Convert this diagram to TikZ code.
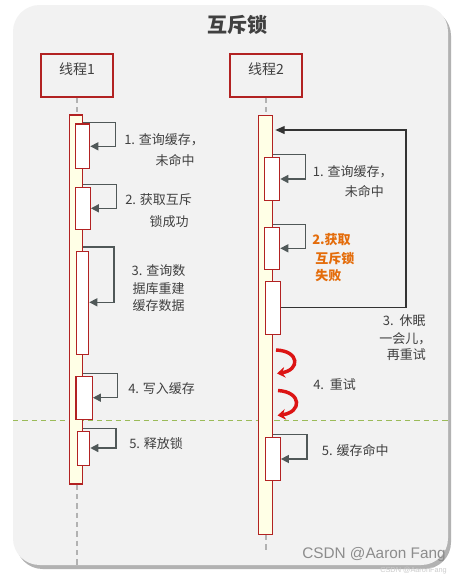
\documentclass[tikz,border=0pt]{standalone}
\usepackage{fontspec}
\newfontfamily\cjk{Noto Sans CJK SC}
\setsansfont{Liberation Sans}
\usetikzlibrary{fit,arrows.meta,calc}
\definecolor{bg}{RGB}{242,242,242}
\definecolor{bred}{RGB}{178,34,34}
\definecolor{byel}{RGB}{255,255,230}
\definecolor{agray}{RGB}{80,88,88}
\definecolor{tgray}{RGB}{64,64,64}
\definecolor{orng}{RGB}{228,108,10}
\definecolor{dgreen}{RGB}{155,187,89}
\definecolor{cred}{RGB}{220,20,20}
\begin{document}
\begin{tikzpicture}[x=0.75pt,y=-0.75pt,
  thread/.style={draw=bred, line width=1pt, fill=bg, inner sep=0, font=\cjk\fontsize{10.5}{12}\selectfont, text=tgray},
  bar/.style={draw=bred, line width=1pt, fill=byel, inner sep=0},
  act/.style={draw=bred, line width=0.9pt, fill=white, inner sep=0},
  selfarr/.style={draw=agray, line width=1.1pt, -{Triangle[length=6pt,width=6pt]}},
  looparr/.style={draw=black!80, line width=0.8pt, -{Triangle[length=7pt,width=6pt]}},
  lbl/.style={font=\cjk\fontsize{9.75}{13.1}\selectfont, text=tgray, inner sep=0},
  olbl/.style={font=\cjk\bfseries\fontsize{9.75}{13.1}\selectfont, text=orng, inner sep=0},
  life/.style={draw=black!30, line width=0.8pt, dash pattern=on 4pt off 3pt},
  sep/.style={draw=dgreen, line width=0.8pt, dash pattern=on 4pt off 3pt},
  retry/.style={draw=cred, line width=2.6pt, -{Stealth[length=6pt,width=8pt]}}
]
\useasboundingbox (0,0) rectangle (459,575);
\fill[white] (0,0) rectangle (459,575);
% panel with shadow
\fill[black!30, rounded corners=20] (16,9) rectangle (451,569);
\fill[bg, rounded corners=20] (13,5) rectangle (448,565);

% title
\node[font=\cjk\bfseries\fontsize{15}{17}\selectfont, text=tgray] (title) at (237,25) {互斥锁};

% thread heads
\node[thread, fit={(41,54)(113,97)}] (th1) {线程1};
\node[thread, fit={(230,54)(302,97)}] (th2) {线程2};

% separator
\coordinate (sepL) at (13,420.7);
\coordinate (sepR) at (448,420.7);
\draw[sep] (sepL) -- (sepR);

% lifelines and bars
\node[bar, fit={(69.5,115) (82.7,484)}] (t1bar) {};
\node[bar, fit={(258.3,115.3) (272.7,534.3)}] (t2bar) {};
\coordinate (t1end) at (76.5,565);
\coordinate (t2end) at (265.5,550);
\draw[life] (th1.south) -- (th1.south |- t1bar.north);
\draw[life] (th1.south |- t1bar.south) -- (th1.south |- t1end);
\draw[life] (th2.south) -- (th2.south |- t2bar.north);
\draw[life] (th2.south |- t2bar.south) -- (th2.south |- t2end);

% thread 1 activations
\node[act, fit={(75.3,124)(89.7,168.3)}] (t1a1) {};
\node[act, fit={(75.3,187.3)(90.3,229.3)}] (t1a2) {};
\node[act, fit={(76.3,251.3)(88.7,354.3)}] (t1a3) {};
\node[act, fit={(76,376.3)(92.3,419.3)}] (t1a4) {};
\node[act, fit={(77.3,431.3)(89.7,465.3)}] (t1a5) {};

\draw[selfarr] (t1bar.east |- 0,122.3) -| (115.7,146.3) -- (t1a1.east |- 0,146.3);
\draw[selfarr] (t1bar.east |- 0,184.3) -| (116.7,208.3) -- (t1a2.east |- 0,208.3);
\draw[selfarr] (t1bar.east |- 0,247) -| (114,302.3) -- (t1a3.east |- 0,302.3);
\draw[selfarr] (t1bar.east |- 0,373.3) -| (117.7,397.7) -- (t1a4.east |- 0,397.7);
\draw[selfarr] (t1bar.east |- 0,428.3) -| (116,448) -- (t1a5.east |- 0,448);

% thread 2 activations
\node[act, fit={(264.3,157.3)(279.7,200.3)}] (t2a1) {};
\node[act, fit={(264.3,227.3)(279.7,269.3)}] (t2a2) {};
\node[act, fit={(265.3,281.7)(280.3,334.3)}] (t2a3) {};
\node[act, fit={(265.3,437.3)(280.3,480.3)}] (t2a5) {};

\draw[selfarr] (t2bar.east |- 0,154.3) -| (305.3,179) -- (t2a1.east |- 0,179);
\draw[selfarr] (t2bar.east |- 0,224.3) -| (305.3,248.3) -- (t2a2.east |- 0,248.3);
\draw[selfarr] (t2bar.east |- 0,434.3) -| (307,459) -- (t2a5.east |- 0,459);
\draw[looparr, shorten >=1.5pt] (t2a3.east |- 0,307.3) -| (406,130) -- (t2bar.east |- 0,130);

% retry arrows
\coordinate (r1s) at (276,350);
\coordinate (r1e) at (277,373.5);
\coordinate (r2s) at (278,390.5);
\coordinate (r2e) at (277.5,415.5);
\draw[retry] (r1s) .. controls (300,351) and (300,370) .. (r1e);
\draw[retry] (r2s) .. controls (302,392) and (302,412) .. (r2e);

% thread 1 labels
\node[lbl, anchor=west] (l11) at (124,140) {1. 查询缓存，};
\node[lbl] (l12) at (175,160) {未命中};
\node[lbl, anchor=west] (l21) at (125,200) {2. 获取互斥};
\node[lbl] (l22) at (169,221.7) {锁成功};
\node[lbl, align=center] (l3) at (158.5,288.5) {3. 查询数\\据库重建\\缓存数据};
\node[lbl, anchor=west] (l4) at (128,389) {4. 写入缓存};
\node[lbl, anchor=west] (l5) at (129,443.3) {5. 释放锁};

% thread 2 labels
\node[lbl, anchor=west] (m11) at (312.7,171.7) {1. 查询缓存，};
\node[lbl] (m12) at (364.3,191.7) {未命中};
\node[olbl, anchor=west] (m21) at (312,240) {2.获取};
\node[olbl, anchor=west] (m22) at (315,258.3) {互斥锁};
\node[olbl, anchor=west] (m23) at (315,276) {失败};
\node[lbl, anchor=west] (m31) at (382.7,320.7) {3.\ \ 休眠};
\node[lbl, anchor=west] (m32) at (379,339) {一会儿，};
\node[lbl, anchor=west] (m33) at (386.7,355) {再重试};
\node[lbl, anchor=west] (m4) at (313,385) {4.\ \ 重试};
\node[lbl, anchor=west] (m5) at (321.7,450.7) {5. 缓存命中};

% watermark
\node[font=\sffamily\fontsize{11.5}{13}\selectfont, text=black!45, anchor=west, inner sep=0] (wm) at (302,555) {CSDN @Aaron Fang};
\node[font=\sffamily\fontsize{5.5}{6}\selectfont, text=black!20, anchor=west, inner sep=0] (wm2) at (380,570.5) {CSDN @AaronFang};
\end{tikzpicture}
\end{document}
